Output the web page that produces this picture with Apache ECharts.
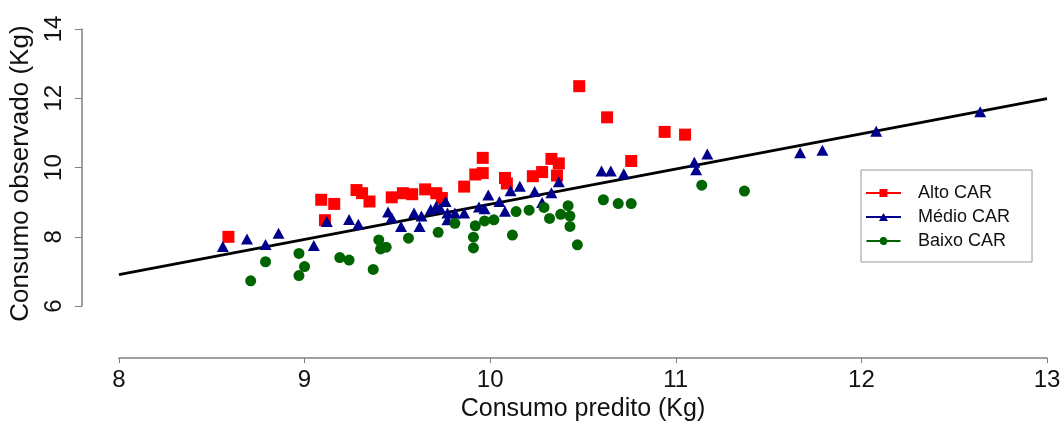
<!DOCTYPE html>
<html>
<head>
<meta charset="utf-8">
<script src="https://cdn.jsdelivr.net/npm/echarts@6.0.0/dist/echarts.min.js"></script>
<style>
	html, body { margin: 0; padding: 0; background: #fff; }
	#main { width: 1064px; height: 427px; }
</style>
</head>
<body>
<div id="main"></div>
<script>
// Alto CAR (quadrados vermelhos)
var altoX = [8.59, 9.09, 9.16, 9.11, 9.28, 9.31, 9.35, 9.47, 9.53, 9.58, 9.65, 9.71, 9.74, 9.86, 9.92,
	9.96, 9.96, 10.08, 10.09, 10.23, 10.28, 10.33, 10.37, 10.36, 10.48, 10.63, 10.76, 10.94, 11.05];
var altoY = [8.00, 9.07, 8.95, 8.48, 9.35, 9.26, 9.02, 9.14, 9.26, 9.23, 9.37, 9.26, 9.12, 9.45, 9.80,
	9.84, 10.28, 9.70, 9.54, 9.75, 9.87, 10.25, 10.12, 9.77, 12.35, 11.45, 10.19, 11.03, 10.95];

// Médio CAR (triângulos azuis)
var medioX = [8.56, 8.69, 8.79, 8.86, 9.05, 9.12, 9.24, 9.29, 9.45, 9.47, 9.52, 9.59, 9.62, 9.63, 9.68,
	9.71, 9.73, 9.76, 9.77, 9.77, 9.81, 9.86, 9.94, 9.97, 9.99, 10.05, 10.08, 10.11, 10.16, 10.24,
	10.28, 10.33, 10.37, 10.60, 10.65, 10.72, 11.10, 11.11, 11.17, 11.67, 11.79, 12.08, 12.64];
var medioY = [7.72, 7.94, 7.78, 8.10, 7.75, 8.44, 8.50, 8.36, 8.72, 8.55, 8.30, 8.69, 8.30, 8.60, 8.79,
	8.88, 8.83, 9.02, 8.69, 8.49, 8.69, 8.69, 8.86, 8.81, 9.21, 9.02, 8.74, 9.33, 9.46, 9.31,
	8.99, 9.27, 9.59, 9.90, 9.90, 9.82, 10.15, 9.94, 10.39, 10.43, 10.50, 11.05, 11.61];

// Baixo CAR (círculos verdes)
var baixoX = [8.71, 8.79, 8.97, 9.00, 8.97, 9.19, 9.24, 9.37, 9.40, 9.41, 9.44, 9.56, 9.72, 9.81, 9.91,
	9.91, 9.92, 9.97, 10.02, 10.12, 10.14, 10.21, 10.29, 10.32, 10.38, 10.42, 10.43, 10.43, 10.47,
	10.61, 10.69, 10.76, 11.14, 11.37];
var baixoY = [6.73, 7.28, 7.52, 7.14, 6.88, 7.40, 7.33, 7.06, 7.91, 7.65, 7.70, 7.96, 8.13, 8.39, 7.68,
	7.99, 8.32, 8.46, 8.49, 8.05, 8.73, 8.77, 8.85, 8.53, 8.65, 8.90, 8.60, 8.30, 7.77,
	9.07, 8.96, 8.96, 9.49, 9.32];

// reta de regressão
var retaX = [8, 13];
var retaY = [6.91, 11.99];

var nomes = ['Alto CAR', 'Médio CAR', 'Baixo CAR'];

function pares(xs, ys){
	var out = [];
	for (var i = 0; i < xs.length; i++) {
		out.push([xs[i], ys[i]]);
	}
	return out;
}

// icones da legenda: linha com o simbolo no meio
var iconQuadrado = 'path://M0,3L13.5,3L13.5,0L21.5,0L21.5,3L35,3L35,5L21.5,5L21.5,8L13.5,8L13.5,5L0,5Z';
var iconTriangulo = 'path://M0,3L15.8,3L17.5,0L19.2,3L35,3L35,5L20.3,5L22,8L13,8L14.7,5L0,5Z';
var iconCirculo = 'path://M0,3L13.6,3A4,4,0,0,1,21.4,3L35,3L35,5L21.4,5A4,4,0,0,1,13.6,5L0,5Z';

var fonte = "'Liberation Sans', Arial, sans-serif";
var cinza = '#808080';

var myChart = echarts.init(document.getElementById('main'), null, {renderer: 'canvas'});
var option = {
	backgroundColor: '#ffffff',
	animation: false,
	textStyle: { fontFamily: fonte },
	grid: {
		left: 113,
		right: 17,
		top: 29,
		bottom: 116,
		containLabel: false
	},
	legend: {
		data: [
			{ name: nomes[0], icon: iconQuadrado },
			{ name: nomes[1], icon: iconTriangulo },
			{ name: nomes[2], icon: iconCirculo }
		],
		orient: 'vertical',
		left: 861,
		top: 170,
		itemWidth: 35,
		itemHeight: 8,
		itemGap: 4,
		padding: [13, 22, 11, 5],
		borderColor: '#999999',
		borderWidth: 1,
		backgroundColor: '#ffffff',
		textStyle: {
			fontFamily: fonte,
			fontSize: 18,
			lineHeight: 20,
			color: '#111',
			padding: [0, 0, 0, 12]
		}
	},
	xAxis: {
		type: 'value',
		min: 8,
		max: 13,
		interval: 1,
		offset: 52,
		name: 'Consumo predito (Kg)',
		nameLocation: 'middle',
		nameGap: 36,
		nameTextStyle: { fontFamily: fonte, fontSize: 25, color: '#111' },
		axisLine: { show: true, lineStyle: { color: cinza, width: 1.5 } },
		axisTick: { show: true, length: 5, lineStyle: { color: cinza } },
		axisLabel: { fontFamily: fonte, fontSize: 24, color: '#111', margin: 10 },
		splitLine: { show: false }
	},
	yAxis: {
		type: 'value',
		min: 6,
		max: 14,
		interval: 2,
		offset: 37,
		name: 'Consumo observado (Kg)',
		nameLocation: 'middle',
		nameGap: 38,
		nameTextStyle: { fontFamily: fonte, fontSize: 26, color: '#111', padding: [0, 12, 0, 0] },
		axisLine: { show: true, lineStyle: { color: cinza, width: 1.5 } },
		axisTick: { show: true, length: 7, lineStyle: { color: cinza } },
		axisLabel: { fontFamily: fonte, fontSize: 24, color: '#111', rotate: 90, margin: 16 },
		splitLine: { show: false }
	},
	series: [
		{
			name: 'reta',
			type: 'line',
			data: pares(retaX, retaY),
			symbol: 'none',
			silent: true,
			lineStyle: { color: '#000000', width: 2.8 },
			z: 1
		},
		{
			name: nomes[0],
			type: 'scatter',
			data: pares(altoX, altoY),
			symbol: 'rect',
			symbolSize: 12,
			itemStyle: { color: '#ff0000', opacity: 1 },
			z: 2
		},
		{
			name: nomes[1],
			type: 'scatter',
			data: pares(medioX, medioY),
			symbol: 'triangle',
			symbolSize: [12, 11],
			itemStyle: { color: '#00008b', opacity: 1 },
			z: 3
		},
		{
			name: nomes[2],
			type: 'scatter',
			data: pares(baixoX, baixoY),
			symbol: 'circle',
			symbolSize: 11,
			itemStyle: { color: '#006400', opacity: 1 },
			z: 3
		}
	]
};
myChart.setOption(option);
</script>
</body>
</html>
